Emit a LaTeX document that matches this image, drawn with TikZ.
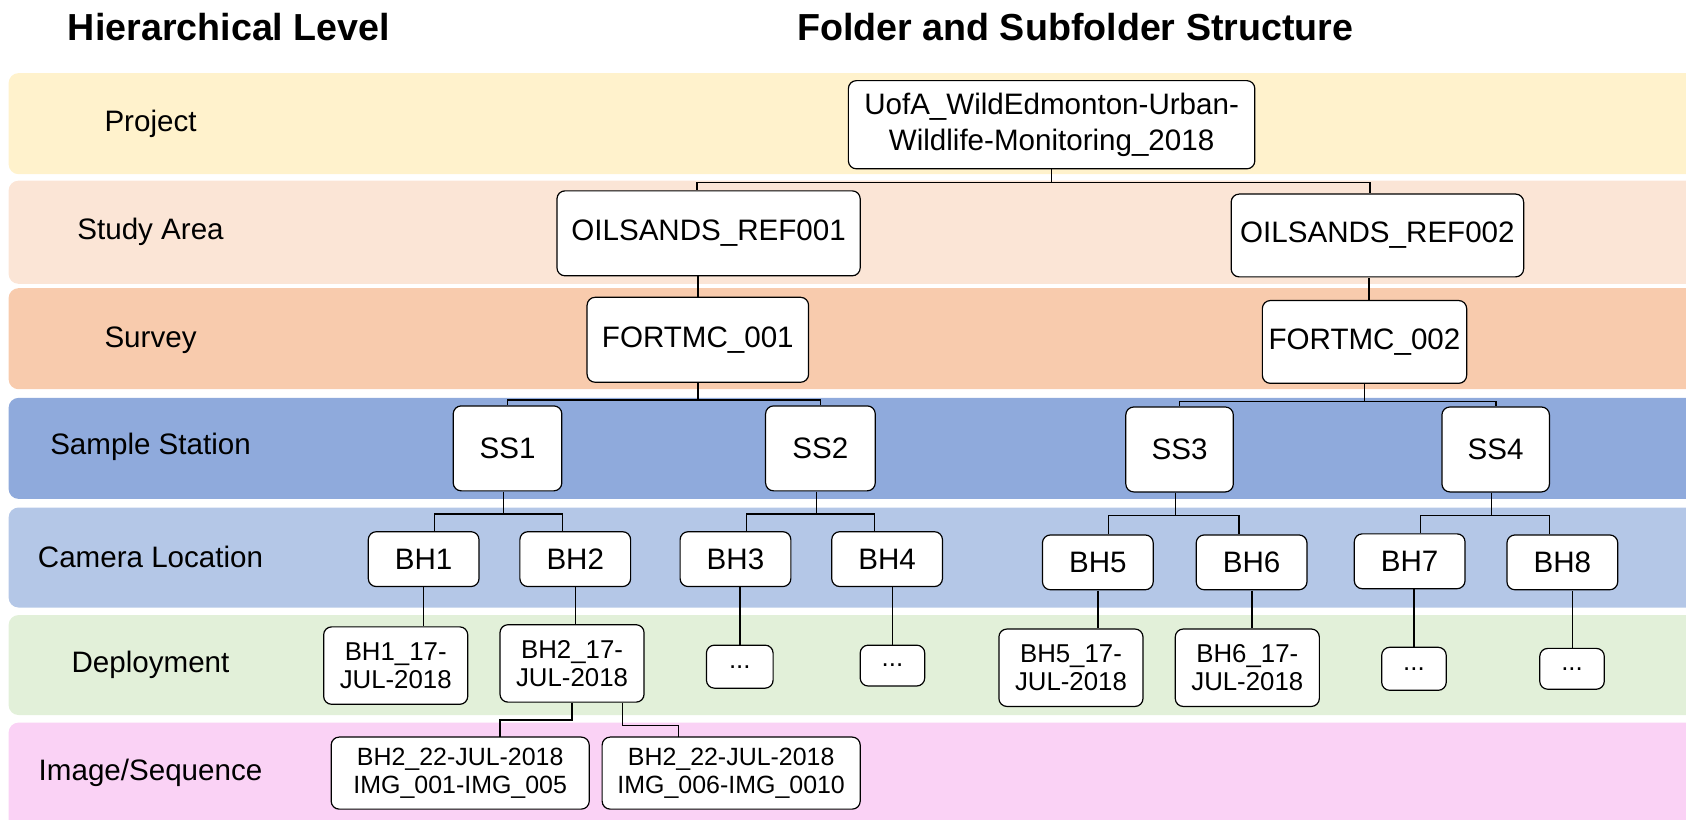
\documentclass[tikz,border=0pt]{standalone}
\usepackage{fontspec}
\setmainfont{Liberation Sans}
\definecolor{bandP}{RGB}{255,242,204}
\definecolor{bandS}{RGB}{251,229,214}
\definecolor{bandV}{RGB}{248,203,173}
\definecolor{bandT}{RGB}{143,170,220}
\definecolor{bandC}{RGB}{180,199,231}
\definecolor{bandD}{RGB}{226,240,217}
\definecolor{bandI}{RGB}{250,210,245}
\begin{document}
\begin{tikzpicture}[x=0.5pt,y=-0.5pt, scale=1.0753, every node/.append style={transform shape},
  box/.style={draw=black, fill=white, rounded corners=4pt, line width=0.6pt, inner sep=0pt, align=center,
    font=\fontsize{13.75}{16.5}\selectfont},
  dbox/.style={box, font=\fontsize{12}{12.8}\selectfont},
  ibox/.style={box, font=\fontsize{11.6}{12.8}\selectfont},
  lvl/.style={font=\fontsize{13.75}{16}\selectfont, anchor=center},
  ttl/.style={font=\bfseries\fontsize{17.5}{20}\selectfont, anchor=center},
  band/.style={rounded corners=5pt},
  conn/.style={draw=black, line width=0.7pt}]
\useasboundingbox (0,0) rectangle (1568,762.6);
\begin{scope}
\clip (0,0) rectangle (1568,762.6);
\fill[band, bandP] (8,68) rectangle (1600,162);
\fill[band, bandS] (8,168) rectangle (1600,264);
\fill[band, bandV] (8,268) rectangle (1600,362);
\fill[band, bandT] (8,370) rectangle (1600,464);
\fill[band, bandC] (8,472) rectangle (1600,565);
\fill[band, bandD] (8,572) rectangle (1600,665);
\fill[band, bandI] (8,672) rectangle (1600,790);
\end{scope}

% titles
\node[ttl] (t1) at (213,25) {Hierarchical Level};
\node[ttl] (t2) at (1000,25) {Folder and Subfolder Structure};

% level labels
\node[lvl] (l1) at (140,115) {Project};
\node[lvl] (l2) at (140,216) {Study Area};
\node[lvl] (l3) at (140,316) {Survey};
\node[lvl] (l4) at (140,416) {Sample Station};
\node[lvl] (l5) at (140,518) {Camera Location};
\node[lvl] (l6) at (140,618) {Deployment};
\node[lvl] (l7) at (140,719) {Image/Sequence};

% nodes
\node[box, minimum width=189pt, minimum height=41pt] (P) at (978,116) {UofA\_WildEdmonton-Urban-\\Wildlife-Monitoring\_2018};
\node[box, minimum width=141pt, minimum height=39.5pt] (R1) at (659,217) {OILSANDS\_REF001};
\node[box, minimum width=136pt, minimum height=38.5pt] (R2) at (1281,219) {OILSANDS\_REF002};
\node[box, minimum width=103pt, minimum height=39.5pt] (F1) at (649,316) {FORTMC\_001};
\node[box, minimum width=95pt, minimum height=38.5pt] (F2) at (1269,318) {FORTMC\_002};

\node[box, minimum width=50.5pt, minimum height=39.5pt] (SS1) at (472,417) {SS1};
\node[box, minimum width=51pt, minimum height=39.5pt] (SS2) at (763,417) {SS2};
\node[box, minimum width=50pt, minimum height=39.5pt] (SS3) at (1097,418) {SS3};
\node[box, minimum width=50pt, minimum height=39.5pt] (SS4) at (1391,418) {SS4};

\node[box, minimum width=51.5pt, minimum height=25.5pt] (BH1) at (394,520) {BH1};
\node[box, minimum width=51.5pt, minimum height=25.5pt] (BH2) at (535,520) {BH2};
\node[box, minimum width=51.5pt, minimum height=25.5pt] (BH3) at (684,520) {BH3};
\node[box, minimum width=51.5pt, minimum height=25.5pt] (BH4) at (825,520) {BH4};
\node[box, minimum width=51.5pt, minimum height=25.5pt] (BH5) at (1021,523) {BH5};
\node[box, minimum width=51.5pt, minimum height=25.5pt] (BH6) at (1164,523) {BH6};
\node[box, minimum width=51.5pt, minimum height=25.5pt] (BH7) at (1311,522) {BH7};
\node[box, minimum width=51.5pt, minimum height=25.5pt] (BH8) at (1453,523) {BH8};

\node[dbox, minimum width=67pt, minimum height=36pt] (D1) at (368,619) {BH1\_17-\\JUL-2018};
\node[dbox, minimum width=67pt, minimum height=36pt] (D2) at (532,617) {BH2\_17-\\JUL-2018};
\node[dbox, minimum width=31pt, minimum height=20pt] (D3) at (688,620) {...};
\node[dbox, minimum width=30pt, minimum height=19pt] (D4) at (830,619) {...};
\node[dbox, minimum width=67pt, minimum height=36pt] (D5) at (996,621) {BH5\_17-\\JUL-2018};
\node[dbox, minimum width=67pt, minimum height=36pt] (D6) at (1160,621) {BH6\_17-\\JUL-2018};
\node[dbox, minimum width=30pt, minimum height=20pt] (D7) at (1315,622) {...};
\node[dbox, minimum width=30pt, minimum height=19pt] (D8) at (1462,622) {...};

\node[ibox, minimum width=120pt, minimum height=33.5pt] (I1) at (428,719) {BH2\_22-JUL-2018\\IMG\_001-IMG\_005};
\node[ibox, minimum width=120pt, minimum height=33.5pt] (I2) at (680,719) {BH2\_22-JUL-2018\\IMG\_006-IMG\_0010};

% connectors
\draw[conn] (P.south) -- ++(0,12) -| ([xshift=-5.5pt]R1.north);
\draw[conn] (P.south) ++(0,12) -| ([xshift=-3.5pt]R2.north);
\draw[conn] (F1.north) -- (F1.north |- R1.south);
\draw[conn] ([xshift=2pt]F2.north) -- ([xshift=2pt]F2.north |- R2.south);

\draw[conn] (F1.south) -- ++(0,16) -| (SS1.north);
\draw[conn] (F1.south) ++(0,16) -| (SS2.north);
\draw[conn] (F2.south) -- ++(0,16) -| (SS3.north);
\draw[conn] (F2.south) ++(0,16) -| (SS4.north);

\draw[conn] ([xshift=-2pt]SS1.south) -- ++(0,21) -| ([xshift=5pt]BH1.north);
\draw[conn] ([xshift=-2pt]SS1.south) ++(0,21) -| ([xshift=-6pt]BH2.north);
\draw[conn] ([xshift=-2pt]SS2.south) -- ++(0,21) -| ([xshift=5pt]BH3.north);
\draw[conn] ([xshift=-2pt]SS2.south) ++(0,21) -| ([xshift=-6pt]BH4.north);
\draw[conn] ([xshift=-2pt]SS3.south) -- ++(0,21) -| ([xshift=5pt]BH5.north);
\draw[conn] ([xshift=-2pt]SS3.south) ++(0,21) -| ([xshift=-6pt]BH6.north);
\draw[conn] ([xshift=-2pt]SS4.south) -- ++(0,21) -| ([xshift=5pt]BH7.north);
\draw[conn] ([xshift=-2pt]SS4.south) ++(0,21) -| ([xshift=-6pt]BH8.north);

\draw[conn] (BH1.south) -- (BH1.south |- D1.north);
\draw[conn] (BH2.south) -- (BH2.south |- D2.north);
\draw[conn] (D3.north) -- (D3.north |- BH3.south);
\draw[conn] (D4.north) -- (D4.north |- BH4.south);
\draw[conn] (BH5.south) -- (BH5.south |- D5.north);
\draw[conn] (BH6.south) -- (BH6.south |- D6.north);
\draw[conn] (D7.north) -- (D7.north |- BH7.south);
\draw[conn] (D8.north) -- (D8.north |- BH8.south);

\draw[conn] (D2.south) -- ++(0,16) -| ([xshift=18.5pt]I1.north);
\draw[conn] ([xshift=23.5pt]D2.south) -- ++(0,21) -| ([xshift=-24.5pt]I2.north);
\end{tikzpicture}
\end{document}
